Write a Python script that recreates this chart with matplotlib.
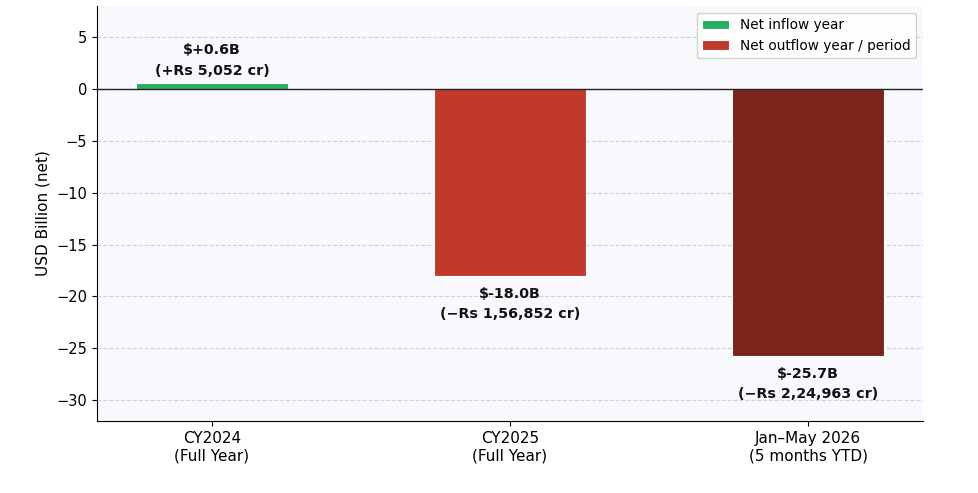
import numpy as np
import matplotlib.pyplot as plt

# data
periods = ['CY2024\n(Full Year)', 'CY2025\n(Full Year)', 'Jan\u2013May 2026\n(5 months YTD)']
net_usd_bn = [0.6, -18.0, -25.7]
rs_labels = ['(+Rs 5,052 cr)', '(\u2212Rs 1,56,852 cr)', '(\u2212Rs 2,24,963 cr)']
bar_colors = ['#27ae60', '#c0392b', '#7b241c']

fig, ax = plt.subplots(figsize=(9.79, 4.93), dpi=100)
fig.subplots_adjust(left=0.099, right=0.943, top=0.988, bottom=0.146)
ax.set_facecolor('#f8f9fc')

x = np.arange(len(periods))
bars = ax.bar(x, net_usd_bn, width=0.51, color=bar_colors, edgecolor='white', linewidth=0.8, zorder=3)

ax.axhline(0, color='#222222', linewidth=1.0, zorder=4)
ax.yaxis.grid(True, linestyle='--', color='#d0d3da', linewidth=0.8, zorder=0)
ax.set_axisbelow(True)

for xi, v, rs in zip(x, net_usd_bn, rs_labels):
    txt = f'${v:+.1f}B\n{rs}' if v > 0 else f'${v:.1f}B\n{rs}'
    if v > 0:
        ax.text(xi, v + 0.5, txt, ha='center', va='bottom', fontsize=10.3,
                fontweight='bold', linespacing=1.55, color='#111111')
    else:
        ax.text(xi, v - 1.1, txt, ha='center', va='top', fontsize=10.3,
                fontweight='bold', linespacing=1.55, color='#111111')

ax.set_xticks(x)
ax.set_xticklabels(periods, fontsize=11)
ax.tick_params(axis='y', labelsize=10.5)
ax.set_ylim(-32, 8)
ax.set_xlim(-0.386, 2.386)
ax.set_ylabel('USD Billion (net)', fontsize=11)

ax.spines['top'].set_visible(False)
ax.spines['right'].set_visible(False)

ax.legend([bars[0], bars[1]], ['Net inflow year', 'Net outflow year / period'],
          loc='upper right', fontsize=9.8, framealpha=0.9)

plt.savefig('out.png', dpi=100)
